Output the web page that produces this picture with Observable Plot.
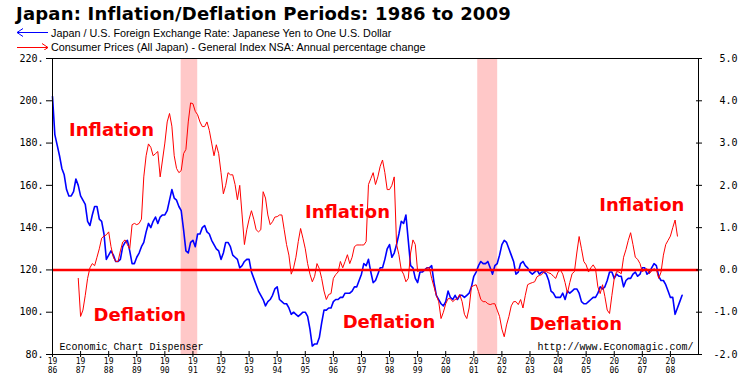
<!DOCTYPE html>
<html>
<head>
<meta charset="utf-8">
<script src="https://cdn.jsdelivr.net/npm/d3@7"></script>
<script src="https://cdn.jsdelivr.net/npm/@observablehq/plot@0.6"></script>
<style>
  html, body { margin: 0; padding: 0; background: #fff; }
  body { width: 750px; height: 375px; overflow: hidden; }
  #head { position: relative; width: 750px; height: 50px; }
  #title { position: absolute; left: 16px; top: 5px; font: bold 18px "DejaVu Sans", sans-serif; letter-spacing: 0.2px; line-height: 18px; white-space: nowrap; color: #000; }
  .leg { position: absolute; left: 51px; font: 10.8px "Liberation Sans", Arial, sans-serif; line-height: 12px; white-space: nowrap; color: #000; }
  #arrows { position: absolute; left: 0; top: 0; }
  #chart svg { display: block; }
</style>
</head>
<body>
<div id="head">
  <div id="title">Japan: Inflation/Deflation Periods: 1986 to 2009</div>
  <svg id="arrows" width="60" height="50">
    <line x1="17" y1="32.5" x2="48" y2="32.5" stroke="#0000ff" stroke-width="1"/>
    <polyline points="23,28.5 17,32.5 23,36.5" fill="none" stroke="#0000ff" stroke-width="1"/>
    <line x1="17" y1="47.5" x2="48" y2="47.5" stroke="#ff0000" stroke-width="1"/>
    <polyline points="42,43.5 48,47.5 42,51.5" fill="none" stroke="#ff0000" stroke-width="1"/>
  </svg>
  <div class="leg" style="top:27px">Japan / U.S. Foreign Exchange Rate: Japanese Yen to One U.S. Dollar</div>
  <div class="leg" style="top:41px">Consumer Prices (All Japan) - General Index NSA: Annual percentage change</div>
</div>
<div id="chart"></div>
<script>
// ---- Data ----
// Yen per US dollar, monthly from Jan 1986
const yenStart = 1986;
const yen = [
  202,184,179,174,168,165,158,155,155,157,163,160,   // 1986
  155,153,151,143,141,146,150,150,144,143,137,125,   // 1987
  127,129,127,124,124,125,131,133,134,129,123,123,   // 1988
  126,128,131,133,138,142,140,143,145,142,145,146,   // 1989
  146,148,153,158,154,153,150,148,139,129,128,133,   // 1990
  134,131,137,137,140,141,138,137,134,132,130,129,   // 1991
  125,128,133,133,131,127,126,125,121,122,124,125,   // 1992
  125,119,116,113,110,108,106,103,105,106,108,111,   // 1993
  112,106,105,104,104,102,99,100,99,98,99,100,       // 1994
  100,98,92,84,85,85,88,95,101,101,102,102,          // 1995
  105,106,106,107,107,109,109,109,110,112,112,115,   // 1996
  118,123,122,125,119,114,115,118,121,121,125,130,   // 1997
  132,126,128,132,137,143,142,146,134,122,121,116,   // 1998
  114,119,119,120,121,121,122,114,108,106,104,103,   // 1999
  105,110,107,106,108,106,108,108,107,108,109,112,   // 2000
  117,119,122,124,123,123,124,121,118,122,123,127,   // 2001
  132,134,133,130,127,124,118,119,123,124,122,121,   // 2002
  119,118,119,120,118,119,119,118,115,110,109,107,   // 2003
  107,107,109,106,110,109,110,111,111,109,105,104,   // 2004
  104,105,106,107,107,109,112,111,112,115,119,119,   // 2005
  116,118,117,117,112,115,116,116,118,119,117,118,   // 2006
  121,121,118,119,121,123,122,117,115,115,113,110,   // 2007
  107,107,99,102,105,108                             // 2008
];

// CPI annual % change, monthly from Dec 1986
const cpiStart = 1986 + 11 / 12;
const cpi = [
  -0.2,
  -1.1,-0.95,-0.6,-0.2,0.05,0.15,0.1,0.3,0.5,0.75,0.8,0.83,          // 1987
  0.9,0.55,0.3,0.2,0.2,0.45,0.66,0.71,0.6,0.5,1.07,1.1,              // 1988
  1.07,1.1,1.2,2.2,2.7,2.98,2.9,2.7,2.75,2.8,2.2,2.6,                // 1989
  3.0,3.5,3.7,3.4,2.7,2.4,2.3,2.35,2.75,2.85,3.5,3.95,               // 1990
  3.93,3.75,3.67,3.5,3.39,3.39,3.5,3.3,3.0,2.7,2.96,2.75,            // 1991
  2.3,1.8,2.0,2.3,2.25,2.25,2.02,1.66,2.0,1.3,0.6,0.95,              // 1992
  1.2,1.4,1.2,0.95,0.9,0.95,1.85,1.7,1.3,1.07,1.14,1.25,             // 1993
  1.26,1.3,1.3,0.95,0.6,0.35,-0.1,0.05,0.3,0.67,0.98,0.75,           // 1994
  0.5,0.15,-0.1,-0.28,-0.15,0.15,0.03,-0.2,-0.5,-0.7,-0.58,-0.56,    // 1995
  -0.2,-0.11,-0.05,0.2,0.05,0.2,0.36,0.15,0.3,0.55,0.59,0.59,        // 1996
  0.59,0.59,0.67,2.02,2.16,2.3,2.02,2.2,2.45,2.6,2.3,1.9,            // 1997
  1.9,2.0,2.2,0.6,0.36,0.0,-0.1,-0.28,-0.2,0.4,0.71,0.6,             // 1998
  -0.04,0.0,-0.02,0.0,0.05,0.05,-0.2,-0.4,-0.6,-0.75,-1.15,-1.0,     // 1999
  -0.8,-0.68,-0.68,-0.75,-0.7,-0.68,-0.58,-0.75,-1.05,-1.15,-0.9,-0.4, // 2000
  -0.37,-0.35,-0.51,-0.7,-0.75,-0.75,-0.8,-0.82,-0.8,-0.8,-0.95,-1.1,  // 2001
  -1.4,-1.58,-1.3,-1.1,-0.85,-0.75,-0.75,-0.82,-0.7,-0.9,-0.6,-0.35,   // 2002
  -0.32,-0.3,-0.28,-0.16,-0.13,-0.11,-0.05,-0.04,-0.07,-0.09,-0.15,-0.2, // 2003
  -0.05,0.0,-0.1,-0.3,-0.55,-0.3,-0.09,-0.04,0.4,0.79,0.5,0.2,       // 2004
  0.12,-0.05,0.05,0.12,0.03,-0.4,-0.56,-0.35,-0.63,-0.95,-1.03,-0.6, // 2005
  -0.2,-0.04,-0.05,-0.09,0.3,0.48,0.7,0.88,0.6,0.3,0.25,0.15,        // 2006
  -0.04,0.0,0.03,-0.09,-0.02,0.03,0.0,-0.2,-0.05,0.35,0.6,0.7,       // 2007
  0.8,1.0,1.18,0.8                                                   // 2008
];

// Shaded periods (decimal years)
const shadeStart = [1990.58, 2001.14];
const shadeEnd = [1991.17, 2001.85];

// Annotation labels
const labelText = ["Inflation", "Deflation", "Inflation", "Deflation", "Inflation", "Deflation"];
const labelYear = [1986.59, 1987.46, 1994.99, 1996.33, 2005.47, 2002.98];
const labelLevel = [185.9, 98.4, 147.4, 95.1, 150.6, 94.5];

// Tick values
const xTicks = d3.range(1986, 2009);
const yTicks = d3.range(80, 221, 20);     // left axis: yen
// right axis: CPI % = (yen level - 120) / 20

// ---- Build tables ----
const yenData = yen.map((v, i) => ({t: yenStart + i / 12, v}));
const cpiData = cpi.map((v, i) => ({t: cpiStart + i / 12, v: 120 + 20 * v}));
const shades = shadeStart.map((s, i) => ({x1: s, x2: shadeEnd[i]}));
const labels = labelText.map((text, i) => ({text, x: labelYear[i], y: labelLevel[i]}));

const mono = "'DejaVu Sans Mono', monospace";

const chart = Plot.plot({
  width: 750,
  height: 325,
  marginLeft: 52,
  marginRight: 52,
  marginTop: 8,
  marginBottom: 21,
  style: {background: "white", overflow: "visible"},
  x: {domain: [1986, 2009]},
  y: {domain: [80, 220]},
  marks: [
    Plot.rect(shades, {x1: "x1", x2: "x2", fill: "#ffc8c8"}),
    Plot.line(yenData, {x: "t", y: "v", stroke: "#0000ff", strokeWidth: 1.6}),
    Plot.line(cpiData, {x: "t", y: "v", stroke: "#ff0000", strokeWidth: 1}),
    Plot.ruleY([120], {stroke: "#ff0000", strokeWidth: 2.5}),
    Plot.frame({stroke: "black"}),
    Plot.axisY(yTicks, {anchor: "left", tickSize: 6, tickFormat: () => "", label: null}),
    Plot.axisY(yTicks, {anchor: "right", tickSize: 6, dx: -3, tickFormat: () => "", label: null}),
    Plot.axisX(xTicks, {anchor: "bottom", tickSize: 6, dy: -3, tickFormat: () => "", label: null}),
    Plot.text(yTicks, {y: d => d, frameAnchor: "left", textAnchor: "end", dx: -9,
      text: d => d + ".", fontFamily: mono, fontSize: 10, fill: "black"}),
    Plot.text(yTicks, {y: d => d, frameAnchor: "right", textAnchor: "end", dx: 39,
      text: d => ((d - 120) / 20).toFixed(1), fontFamily: mono, fontSize: 10, fill: "black"}),
    Plot.text(xTicks, {x: d => d, frameAnchor: "bottom", lineAnchor: "top", dy: 4,
      text: d => String(d).slice(0, 2) + "\n" + String(d).slice(2),
      fontFamily: mono, fontSize: 8, lineHeight: 1.05, fill: "black"}),
    Plot.text(labels, {x: "x", y: "y", text: "text", textAnchor: "start",
      fontFamily: "'DejaVu Sans', sans-serif", fontWeight: "bold", fontSize: 18, fill: "#ff0000"}),
    Plot.text(["Economic Chart Dispenser"], {frameAnchor: "bottom-left", textAnchor: "start",
      lineAnchor: "bottom", dx: 7, dy: -5, text: d => d,
      fontFamily: "'Liberation Mono', monospace", fontSize: 10, fill: "black"}),
    Plot.text(["http://www.Economagic.com/"], {frameAnchor: "bottom-right", textAnchor: "end",
      lineAnchor: "bottom", dx: -5, dy: -5, text: d => d,
      fontFamily: "'Liberation Mono', monospace", fontSize: 10, fill: "black"})
  ]
});
document.getElementById("chart").appendChild(chart);
</script>
</body>
</html>
